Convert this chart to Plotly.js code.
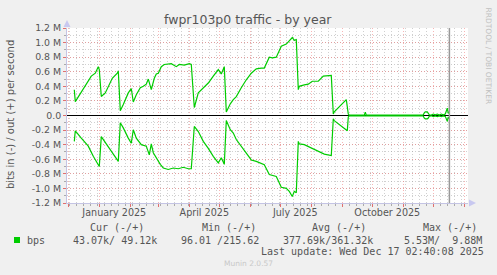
<!DOCTYPE html>
<html>
<head>
<meta charset="utf-8">
<script src="https://cdn.plot.ly/plotly-3.0.1.min.js"></script>
<style>html,body{margin:0;padding:0;background:#F0F0F0;}#chart{width:497px;height:275px;}</style>
</head>
<body>
<div id="chart"></div>
<script>
// ---- data (bits per second) ----
const outDates = ['2024-12-07','2024-12-08','2024-12-24','2024-12-28','2024-12-31','2025-01-01','2025-01-03','2025-01-07','2025-01-14','2025-01-19','2025-01-20','2025-01-22','2025-01-25','2025-01-30','2025-02-02','2025-02-04','2025-02-07','2025-02-11','2025-02-14','2025-02-17','2025-02-19','2025-02-22','2025-02-25','2025-02-27','2025-03-01','2025-03-04','2025-03-07','2025-03-14','2025-03-19','2025-03-22','2025-03-27','2025-04-01','2025-04-03','2025-04-06','2025-04-10','2025-04-15','2025-04-20','2025-04-25','2025-04-30','2025-05-03','2025-05-06','2025-05-08','2025-05-12','2025-05-15','2025-05-18','2025-05-23','2025-05-28','2025-06-02','2025-06-07','2025-06-12','2025-06-15','2025-06-20','2025-06-23','2025-06-27','2025-07-02','2025-07-07','2025-07-10','2025-07-13','2025-07-15','2025-07-17','2025-07-19','2025-07-20','2025-07-25','2025-07-29','2025-08-02','2025-08-08','2025-08-13','2025-08-17','2025-08-21','2025-08-23','2025-08-24','2025-09-05','2025-09-07','2025-09-08','2025-09-23','2025-09-24','2025-09-25','2025-11-20','2025-11-21','2025-11-22','2025-11-23','2025-11-25','2025-11-26','2025-11-27','2025-11-29','2025-12-01','2025-12-03','2025-12-05','2025-12-07','2025-12-09','2025-12-11','2025-12-13','2025-12-15','2025-12-16','2025-12-17'];
const outBps = [354000,190000,540000,580000,670000,630000,260000,310000,510000,580000,610000,66000,150000,310000,370000,185000,285000,380000,400000,430000,500000,354000,510000,570000,580000,670000,700000,710000,670000,700000,690000,710000,700000,110000,310000,385000,445000,540000,630000,570000,670000,48000,160000,217000,260000,380000,490000,580000,640000,650000,650000,800000,790000,800000,950000,980000,1020000,1070000,1030000,1040000,354000,400000,420000,430000,470000,470000,540000,540000,550000,20000,50000,217000,20000,5000,5000,45000,5000,5000,10000,35000,50000,50000,35000,10000,5000,20000,10000,20000,5000,20000,10000,20000,100000,30000,49120];

const inDates = ['2024-12-07','2024-12-08','2024-12-14','2024-12-21','2024-12-26','2024-12-29','2025-01-01','2025-01-03','2025-01-05','2025-01-12','2025-01-17','2025-01-20','2025-01-22','2025-01-25','2025-01-30','2025-02-02','2025-02-04','2025-02-07','2025-02-12','2025-02-17','2025-02-20','2025-02-22','2025-02-24','2025-02-27','2025-03-03','2025-03-06','2025-03-11','2025-03-16','2025-03-21','2025-03-26','2025-03-31','2025-04-03','2025-04-06','2025-04-10','2025-04-15','2025-04-20','2025-04-25','2025-04-30','2025-05-03','2025-05-06','2025-05-08','2025-05-12','2025-05-15','2025-05-18','2025-05-23','2025-05-28','2025-06-02','2025-06-07','2025-06-12','2025-06-15','2025-06-20','2025-06-27','2025-07-02','2025-07-07','2025-07-10','2025-07-13','2025-07-15','2025-07-17','2025-07-19','2025-07-20','2025-07-25','2025-08-02','2025-08-08','2025-08-14','2025-08-21','2025-08-23','2025-08-24','2025-09-06','2025-09-07','2025-09-08','2025-11-20','2025-11-21','2025-11-22','2025-11-23','2025-11-25','2025-11-26','2025-11-27','2025-11-29','2025-12-01','2025-12-03','2025-12-05','2025-12-07','2025-12-09','2025-12-11','2025-12-13','2025-12-15','2025-12-16','2025-12-17'];
const inBps = [-355000,-210000,-310000,-420000,-560000,-630000,-700000,-290000,-330000,-470000,-580000,-630000,-100000,-170000,-310000,-380000,-195000,-310000,-400000,-420000,-540000,-390000,-510000,-580000,-670000,-720000,-740000,-720000,-730000,-710000,-730000,-730000,-150000,-220000,-355000,-450000,-560000,-650000,-580000,-670000,-70000,-195000,-240000,-330000,-420000,-510000,-610000,-630000,-665000,-675000,-810000,-835000,-985000,-1000000,-1040000,-1110000,-1040000,-1060000,-355000,-390000,-400000,-450000,-490000,-530000,-550000,-45000,-70000,-210000,-20000,-4000,-4000,-10000,-35000,-45000,-45000,-35000,-10000,-4000,-15000,-5000,-15000,-5000,-15000,-5000,-12000,-80000,-20000,-43070];

const yTickVals = [-1200000,-1000000,-800000,-600000,-400000,-200000,0,200000,400000,600000,800000,1000000,1200000];
const yTickText = ['-1.2 M','-1.0 M','-0.8 M','-0.6 M','-0.4 M','-0.2 M','0.0','0.2 M','0.4 M','0.6 M','0.8 M','1.0 M','1.2 M'];
const xLabelDates = ['2025-01-16','2025-04-16','2025-07-16','2025-10-16'];
const xLabelText = ['January 2025','April 2025','July 2025','October 2025'];
const xRange = ['2024-11-29 17:00','2026-01-04 17:00'];
const lastUpdate = '2025-12-17 02:40:08';

const legendHeaders = ['Cur (-/+)','Min (-/+)','Avg (-/+)','Max (-/+)'];
const legendValues = ['43.07k/ 49.12k','96.01 /215.62','377.69k/361.32k','5.53M/  9.88M'];
const seriesName = 'bps';
const titleText = 'fwpr103p0 traffic - by year';
const yTitle = 'bits in (-) / out (+) per second';
const updateText = 'Last update: Wed Dec 17 02:40:08 2025';
const footer = 'Munin 2.0.57';
const sideText = 'RRDTOOL / TOBI OETIKER';

// ---- geometry helpers (pixel -> paper) ----
const M = {l:67, r:29, t:28, b:72};
const PW = 497 - M.l - M.r, PH = 275 - M.t - M.b;
const px = x => (x - M.l) / PW;
const py = y => (275 - M.b - y) / PH;

const green = '#00CC00';
const txt = '#555555';
const mono = 'DejaVu Sans Mono, monospace';
const sans = 'DejaVu Sans, sans-serif';
const mgrid = 'rgba(240,110,110,0.5)';
const grid = 'rgba(150,150,150,0.45)';
const axisCol = '#c4c4e4';

const traces = [
  {x: outDates, y: outBps, type:'scatter', mode:'lines', line:{color:green, width:1.2}, hoverinfo:'skip', showlegend:false},
  {x: inDates, y: inBps, type:'scatter', mode:'lines', line:{color:green, width:1.2}, hoverinfo:'skip', showlegend:false},
  {x: xRange, y: [null, null], xaxis:'x2', type:'scatter', mode:'lines', hoverinfo:'skip', showlegend:false}
];

const monoFont = {family:mono, size:10, color:txt};
const annotations = [];
annotations.push({xref:'paper', yref:'paper', x:px(248), y:py(19), text:titleText, showarrow:false, font:{family:sans, size:12.5, color:txt}, xanchor:'center', yanchor:'middle'});
annotations.push({xref:'paper', yref:'paper', x:px(10), y:py(115), text:yTitle, textangle:-90, showarrow:false, font:{family:sans, size:10, color:txt}, xanchor:'center', yanchor:'middle'});
annotations.push({xref:'paper', yref:'paper', x:px(488), y:py(5), text:sideText, textangle:90, showarrow:false, font:{family:sans, size:7.5, color:'#c0c0c0'}, xanchor:'center', yanchor:'top'});
const hdrX = [88.5, 200.5, 311, 422];
legendHeaders.forEach((h,i)=>annotations.push({xref:'paper', yref:'paper', x:px(hdrX[i]), y:py(227.3), text:h, showarrow:false, font:monoFont, xanchor:'left', yanchor:'middle', borderpad:0}));
const valX = [71.5, 179.5, 282, 402.5];
legendValues.forEach((v,i)=>annotations.push({xref:'paper', yref:'paper', x:px(valX[i]), y:py(240), text:v.replace(/ /g,'&nbsp;'), showarrow:false, font:monoFont, xanchor:'left', yanchor:'middle', borderpad:0}));
annotations.push({xref:'paper', yref:'paper', x:px(26), y:py(240), text:seriesName, showarrow:false, font:monoFont, xanchor:'left', yanchor:'middle', borderpad:0});
annotations.push({xref:'paper', yref:'paper', x:px(260), y:py(251.7), text:updateText.replace(/ /g,'&nbsp;'), showarrow:false, font:monoFont, xanchor:'left', yanchor:'middle', borderpad:0});
annotations.push({xref:'paper', yref:'paper', x:px(248), y:py(263.3), text:footer, showarrow:false, font:{family:sans, size:7.5, color:'#c8c8c8'}, xanchor:'center', yanchor:'middle'});

const shapes = [
  {type:'line', xref:'x', yref:'paper', x0:lastUpdate, x1:lastUpdate, y0:0, y1:1, line:{color:'#999999', width:1.5}},
  {type:'rect', xref:'paper', yref:'paper', x0:px(14), x1:px(20), y0:py(243), y1:py(237), fillcolor:green, line:{width:0}},
  // axis arrows
  {type:'path', xref:'paper', yref:'paper', path:`M ${px(63.5)} ${py(27)} L ${px(70.5)} ${py(27)} L ${px(67)} ${py(20)} Z`, fillcolor:'#c8c8f0', line:{width:0}},
  {type:'path', xref:'paper', yref:'paper', path:`M ${px(469)} ${py(199.5)} L ${px(469)} ${py(206.5)} L ${px(476)} ${py(203)} Z`, fillcolor:'#c8c8f0', line:{width:0}}
];

const layout = {
  width:497, height:275,
  margin:M,
  paper_bgcolor:'#F0F0F0', plot_bgcolor:'#FFFFFF',
  showlegend:false,
  xaxis:{
    type:'date', range:xRange, tick0:'2025-01-01', dtick:'M1',
    showticklabels:false, showgrid:true, gridcolor:mgrid, griddash:'1px,2px', gridwidth:1,
    ticks:'outside', ticklen:3, tickcolor:'#e07070',
    showline:true, linecolor:axisCol, linewidth:1, zeroline:false,
    minor:{dtick:7*86400000, tick0:'2024-12-30', showgrid:true, gridcolor:grid, griddash:'1px,2px', gridwidth:1, ticks:'outside', ticklen:2, tickcolor:'#aaaaaa'},
    fixedrange:true
  },
  xaxis2:{
    type:'date', range:xRange, overlaying:'x', anchor:'y', side:'bottom',
    tickmode:'array', tickvals:xLabelDates, ticktext:xLabelText,
    showgrid:false, ticks:'', showline:false, zeroline:false,
    tickfont:{family:sans, size:9.6, color:txt}, ticklabelstandoff:2,
    fixedrange:true
  },
  yaxis:{
    range:[-1200000,1200000], tickmode:'array', tickvals:yTickVals, ticktext:yTickText,
    tickfont:{family:sans, size:9.4, color:txt},
    showgrid:true, gridcolor:mgrid, griddash:'1px,2px', gridwidth:1,
    ticks:'outside', ticklen:3, tickcolor:'#e07070',
    showline:true, linecolor:axisCol, linewidth:1,
    zeroline:true, zerolinecolor:'#000000', zerolinewidth:1.6,
    minor:{tickmode:'linear', tick0:0, dtick:100000, showgrid:true, gridcolor:grid, griddash:'1px,2px', gridwidth:1, ticks:'outside', ticklen:2, tickcolor:'#aaaaaa'},
    fixedrange:true
  },
  annotations:annotations,
  shapes:shapes
};

Plotly.newPlot('chart', traces, layout, {displayModeBar:false, staticPlot:true});
</script>
</body>
</html>
